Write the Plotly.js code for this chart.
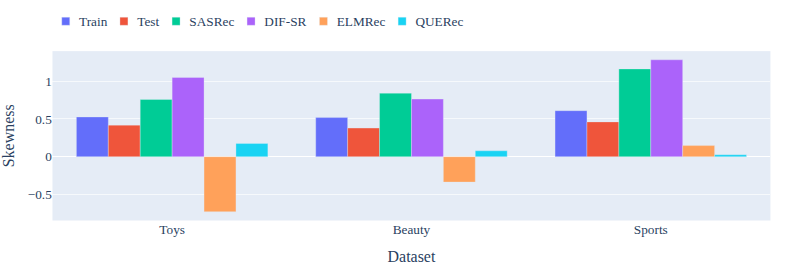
<!DOCTYPE html>
<html>
<head>
<meta charset="utf-8">
<script src="https://cdn.plot.ly/plotly-3.0.1.min.js"></script>
<style>
html,body{margin:0;padding:0;overflow:hidden;width:797px;height:266px;}
#chart{width:1200px;height:400px;transform:scale(0.66417);transform-origin:0 0;}
</style>
</head>
<body>
<div id="chart"></div>
<script>
const categories = ["Toys", "Beauty", "Sports"];
const seriesNames = ["Train", "Test", "SASRec", "DIF-SR", "ELMRec", "QUERec"];
const train = [0.525, 0.517, 0.608];
const test = [0.417, 0.378, 0.46];
const sasrec = [0.756, 0.839, 1.16];
const difsr = [1.047, 0.761, 1.28];
const elmrec = [-0.726, -0.335, 0.147];
const querec = [0.174, 0.078, 0.026];
const colors = ["#636efa", "#EF553B", "#00cc96", "#ab63fa", "#FFA15A", "#19d3f3"];
const values = [train, test, sasrec, difsr, elmrec, querec];

const FAM = "Liberation Serif, Times New Roman, serif";

const traces = seriesNames.map((name, i) => ({
  type: "bar",
  name: name,
  x: categories,
  y: values[i],
  marker: {color: colors[i], line: {color: "#E5ECF6", width: 0.5}}
}));

const layout = {
  width: 1200,
  height: 400,
  margin: {l: 79, r: 40, t: 74, b: 68},
  font: {family: FAM, size: 20, color: "#2a3f5f"},
  paper_bgcolor: "white",
  plot_bgcolor: "#E5ECF6",
  barmode: "group",
  bargap: 0.2,
  legend: {orientation: "h", x: 0, xanchor: "left", y: 1.1, yanchor: "bottom", font: {family: FAM, size: 20, color: "#2a3f5f"}},
  xaxis: {title: {text: "Dataset", font: {family: FAM, size: 24, color: "#2a3f5f"}}, showgrid: false, tickfont: {family: FAM, size: 20, color: "#2a3f5f"}},
  yaxis: {title: {text: "Skewness", font: {family: FAM, size: 24, color: "#2a3f5f"}}, range: [-0.843, 1.395], gridcolor: "white", zerolinecolor: "white", zerolinewidth: 2, tickvals: [-0.5, 0, 0.5, 1], ticktext: ["\u22120.5", "0", "0.5", "1"], tickfont: {family: FAM, size: 20, color: "#2a3f5f"}}
};

Plotly.newPlot("chart", traces, layout, {displayModeBar: false});
</script>
</body>
</html>
